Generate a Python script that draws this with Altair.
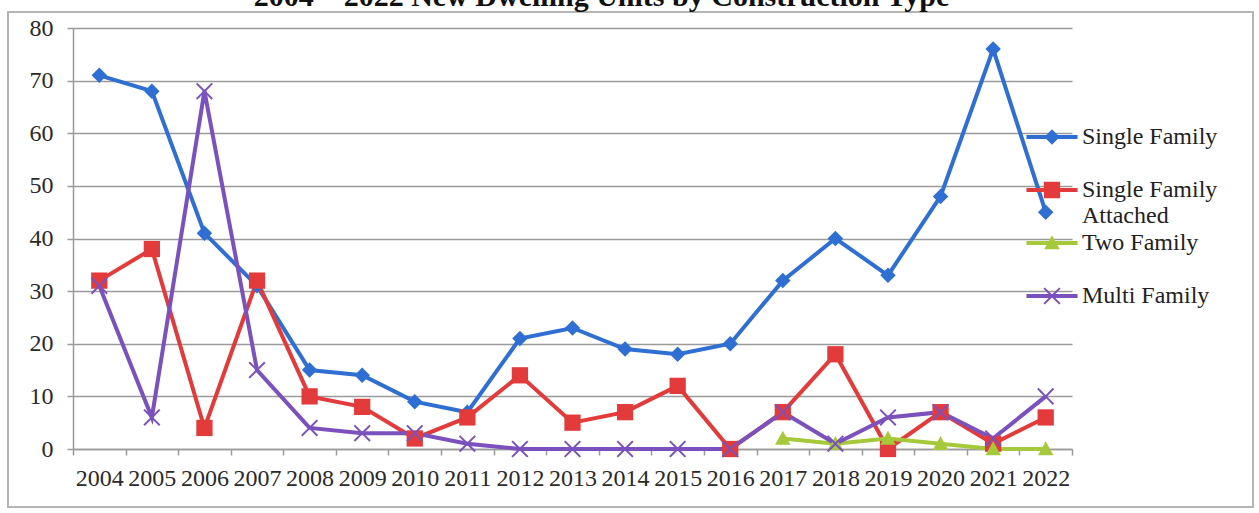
import altair as alt
import pandas as pd

# ---- data -------------------------------------------------------------
YEARS = ["2004", "2005", "2006", "2007", "2008", "2009", "2010", "2011",
         "2012", "2013", "2014", "2015", "2016", "2017", "2018", "2019",
         "2020", "2021", "2022"]

single_family = [71, 68, 41, 31, 15, 14, 9, 7, 21, 23, 19, 18, 20, 32, 40, 33, 48, 76, 45]
single_family_attached = [32, 38, 4, 32, 10, 8, 2, 6, 14, 5, 7, 12, 0, 7, 18, 0, 7, 1, 6]
two_family = [None, None, None, None, None, None, None, None, None, None,
              None, None, None, 2, 1, 2, 1, 0, 0]
multi_family = [31, 6, 68, 15, 4, 3, 3, 1, 0, 0, 0, 0, 0, 7, 1, 6, 7, 2, 10]

SERIES = ["Single Family", "Single Family Attached", "Two Family", "Multi Family"]
COLORS = ["#2f6fd3", "#e33b3b", "#a6c93c", "#7b52bd"]

rows = []
for name, vals in zip(SERIES, [single_family, single_family_attached, two_family, multi_family]):
    for yr, v in zip(YEARS, vals):
        if v is not None:
            rows.append({"year": yr, "series": name, "units": v})
df = pd.DataFrame(rows)

# ---- marker outlines (symbol units) -----------------------------------
DIAMOND = "M0,-1L1,0L0,1L-1,0Z"
SQUARE = "M-1.05,-1.05H1.05V1.05H-1.05Z"
TRIANGLE = "M0,-1L1,0.8H-1Z"
CROSS = ("M-1.1,-0.92L-0.92,-1.1L0,-0.18L0.92,-1.1L1.1,-0.92L0.18,0L1.1,0.92"
         "L0.92,1.1L0,0.18L-0.92,1.1L-1.1,0.92L-0.18,0Z")
MARKERS = [DIAMOND, SQUARE, TRIANGLE, CROSS]

# legend keys: a short line segment through the marker, plus a zero-area
# vertical stroke that gives every legend row the same height
KEY_BAR = "M-3.3,-0.26H3.3V0.26H-3.3Z"
KEY_EXTENT = "M0,-5.2L0,5.2"
KEYS = [KEY_BAR + m + KEY_EXTENT for m in MARKERS]

SERIF = "Liberation Serif"
GRID = "#9a9a9a"

x_enc = alt.X(
    "year:O",
    sort=YEARS,
    scale=alt.Scale(type="band", domain=YEARS, paddingInner=0, paddingOuter=0),
    axis=alt.Axis(
        title=None, labelAngle=0, labelFont=SERIF, labelFontSize=24,
        labelColor="#2a2a2a", labelPadding=11, tickBand="extent",
        tickSize=6, tickColor=GRID, tickWidth=1.5, domainColor=GRID,
        domainWidth=1.5, grid=False, labelOverlap=False,
    ),
)
y_enc = alt.Y(
    "units:Q",
    scale=alt.Scale(domain=[0, 80], nice=False, zero=True),
    axis=alt.Axis(
        title=None, values=[0, 10, 20, 30, 40, 50, 60, 70, 80],
        labelFont=SERIF, labelFontSize=24, labelColor="#2a2a2a",
        labelPadding=14, tickSize=6, tickColor=GRID, tickWidth=1.5,
        domainColor=GRID, domainWidth=1.5, gridColor=GRID, gridWidth=1.5,
    ),
)
color_scale = alt.Scale(domain=SERIES, range=COLORS)

legend_props = dict(
    orient="none", legendX=967, legendY=97, title=None, padding=0,
    labelFont=SERIF, labelFontSize=24, labelColor="#222222", labelLimit=400,
    labelOffset=18, symbolSize=240, symbolStrokeWidth=0, symbolOpacity=1,
    rowPadding=-29,
    labelExpr="datum.value == 'Single Family Attached' ? ['Single Family', 'Attached'] : datum.label",
)

frame = alt.Chart(pd.DataFrame({"frame": [0]})).mark_rect(
    fill="transparent", stroke="#b5b5b5", strokeWidth=2
).encode(
    x=alt.value(-65), x2=alt.value(1180), y=alt.value(-16), y2=alt.value(479)
)

lines = alt.Chart(df).mark_line(strokeWidth=4).encode(
    x=x_enc, y=y_enc,
    color=alt.Color("series:N", scale=color_scale, legend=None),
)

points = alt.Chart(df).mark_point(filled=True, size=240, opacity=1).encode(
    x=x_enc, y=y_enc,
    color=alt.Color("series:N", scale=color_scale, legend=None),
    shape=alt.Shape("series:N", scale=alt.Scale(domain=SERIES, range=MARKERS), legend=None),
)

key = alt.Chart(df).mark_point(filled=True, size=0, opacity=1).encode(
    x=x_enc, y=y_enc,
    color=alt.Color("series:N", scale=color_scale, legend=alt.Legend(**legend_props)),
    shape=alt.Shape("series:N", scale=alt.Scale(domain=SERIES, range=KEYS),
                    legend=alt.Legend(**legend_props)),
)

chart = alt.layer(frame, lines, points, key).resolve_scale(
    shape="independent", color="independent"
).properties(
    width=999,
    height=421,
    padding={"left": 73, "top": 28, "right": 187, "bottom": 64},
    autosize=alt.AutoSizeParams(type="none"),
    background="white",
    title=alt.TitleParams(
        text="2004 – 2022 New Dwelling Units by Construction Type",
        font=SERIF, fontSize=30, fontWeight="bold", color="#111111",
        anchor="middle", frame="group", dx=29, offset=-1,
    ),
).configure_view(stroke=None)

chart.save("out.html", embed_options={"renderer": "svg", "actions": False})
